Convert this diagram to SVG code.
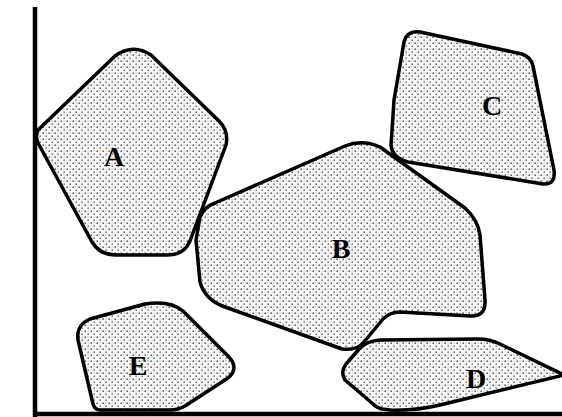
<svg xmlns="http://www.w3.org/2000/svg" width="562" height="417" viewBox="0 0 562 417">
<style>
.rock{fill:url(#stip);stroke:#000;stroke-width:3.5;stroke-linejoin:round}
.lbl{font-family:"Liberation Serif","Times New Roman",serif;font-weight:bold;font-size:28px;fill:#000;text-anchor:middle}
.axis{stroke:#000;stroke-width:4.5;fill:none}
</style>
<defs>
<pattern id="stip" width="6" height="6" patternUnits="userSpaceOnUse">
<rect width="6" height="6" fill="#fafafa"/>
<rect x="0.5" y="0.5" width="1.4" height="1.4" fill="#3a3a3a"/>
<rect x="3.5" y="3.5" width="1.4" height="1.4" fill="#5a5a5a"/>
<rect x="3.5" y="0.5" width="1" height="1" fill="#9a9a9a"/>
</pattern>
</defs>
<g id="axes">
<line class="axis" x1="35" y1="7" x2="35" y2="417"/>
<line class="axis" x1="33" y1="414" x2="562" y2="414"/>
</g>
<g id="A">
<path class="rock" d="M38,130 L115,56 Q133,43 151,55 L219,121 Q229,131 226,145 L199,217 L190,241 Q184,255 168,255 L115,255 Q100,255 92,242 L38,143 Q35,136 38,130 Z"/>
<text class="lbl" x="114" y="166">A</text>
</g>
<g id="B">
<path class="rock" d="M200,217 Q204,207 215,203 L345,146 Q362,139 380,147 L465,208 Q478,220 480,235 L485,300 Q486,317 470,316 L400,312 Q390,312 383,319 L364,342 Q357,351 342,349 L225,307 Q205,300 200,282 L196,240 Z"/>
<text class="lbl" x="341" y="258">B</text>
</g>
<g id="C">
<path class="rock" d="M404,42 Q407,30 420,32 L522,54 Q531,57 533,66 L554,170 Q556,185 543,184 L408,162 Q392,158 391,145 L394,100 Z"/>
<text class="lbl" x="492" y="115">C</text>
</g>
<g id="D">
<path class="rock" d="M345,380 Q340,372 346,364 L360,348 Q367,341 380,340 L478,339 Q490,339 500,344 L564,375 L440,405 Q415,411 390,410 L382,409 Q377,408 373,404 Z"/>
<text class="lbl" x="476" y="388">D</text>
</g>
<g id="E">
<path class="rock" d="M78,340 Q76,325 90,319 L145,304 Q170,300 183,311 L228,356 Q240,368 228,378 L185,406 Q178,410 170,410 L100,410 Q95,410 93,404 Z"/>
<text class="lbl" x="138" y="375">E</text>
</g>
</svg>
